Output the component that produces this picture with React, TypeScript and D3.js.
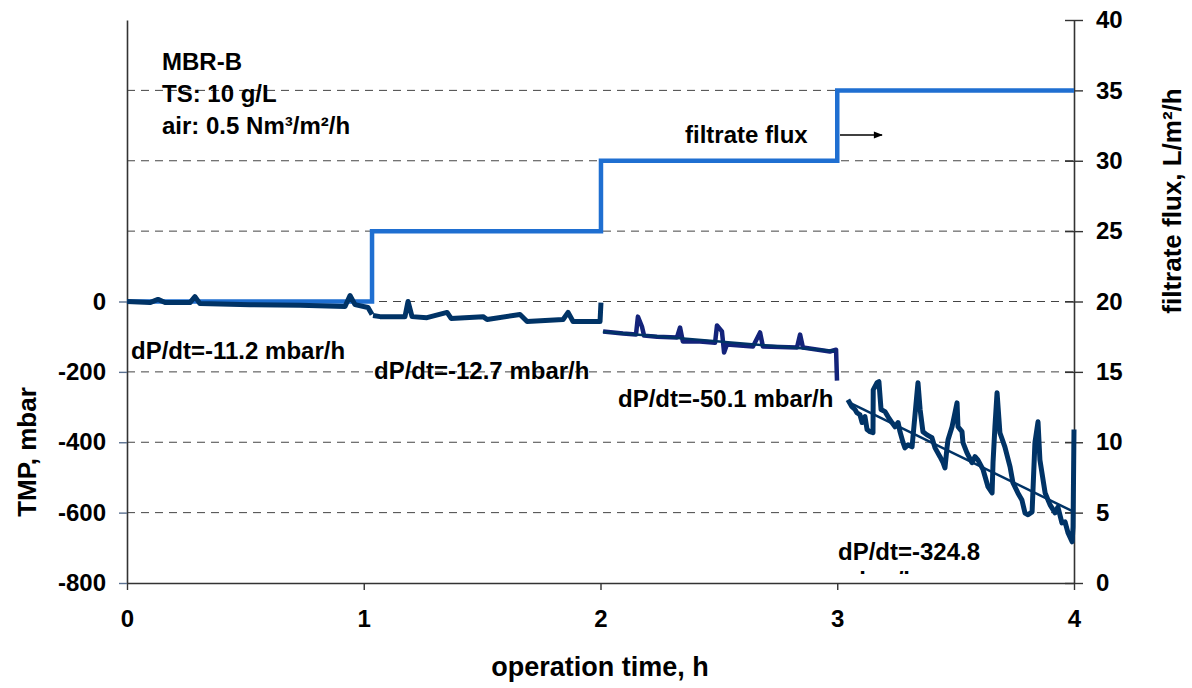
import { useRef, useEffect } from "react";
import * as d3 from "d3";

// operation time in h, TMP in mbar, flux in L/m2/h
const timeTicks = [0, 1, 2, 3, 4];
const tmpTicks = [0, -200, -400, -600, -800];
const fluxTicks = [0, 5, 10, 15, 20, 25, 30, 35, 40];
const gridFlux = [5, 10, 15, 20, 25, 30, 35];

const fluxTime = [0, 1.035, 2.002, 3.0, 4.0];
const fluxValue = [20, 25, 30, 35, 35];

const seg1: [number, number][] = [
  [0, 0], [0.097, -3], [0.131, 6], [0.161, -3], [0.266, -3], [0.287, 14], [0.308, -6],
  [0.52, -9], [0.731, -11], [0.921, -14], [0.942, 17], [0.963, -9], [1.018, -17], [1.035, -37],
];
const seg2: [number, number][] = [
  [1.039, -40], [1.069, -43], [1.174, -43], [1.187, 0], [1.204, -43], [1.267, -46],
  [1.352, -31], [1.369, -48], [1.504, -43], [1.521, -51], [1.66, -37], [1.69, -57],
  [1.842, -51], [1.863, -31], [1.884, -57], [1.998, -57], [2.002, -3],
];
const seg3: [number, number][] = [
  [2.011, -85], [2.095, -91], [2.15, -94], [2.158, -43], [2.175, -71], [2.184, -97],
  [2.239, -100], [2.323, -102], [2.336, -74], [2.348, -114], [2.42, -114], [2.484, -117],
  [2.492, -68], [2.513, -85], [2.522, -145], [2.534, -122], [2.644, -128], [2.674, -88],
  [2.686, -128], [2.83, -131], [2.843, -94], [2.855, -131], [2.969, -142], [2.995, -137],
  [2.999, -225],
];
const seg4: [number, number][] = [
  [3.045, -279], [3.062, -299], [3.075, -307], [3.083, -316], [3.096, -322], [3.105, -344],
  [3.117, -327], [3.126, -364], [3.138, -370], [3.151, -373], [3.152, -251], [3.168, -231],
  [3.176, -228], [3.185, -307], [3.202, -313], [3.214, -327], [3.231, -344], [3.244, -356],
  [3.257, -344], [3.265, -370], [3.278, -401], [3.286, -416], [3.299, -407], [3.316, -413],
  [3.32, -384], [3.337, -259], [3.341, -231], [3.35, -307], [3.362, -370], [3.379, -379],
  [3.4, -387], [3.413, -416], [3.434, -441], [3.447, -458], [3.455, -473], [3.464, -413],
  [3.468, -393], [3.485, -356], [3.506, -288], [3.51, -356], [3.527, -370], [3.531, -401],
  [3.548, -430], [3.569, -458], [3.582, -441], [3.594, -450], [3.616, -478], [3.637, -527],
  [3.654, -544], [3.658, -458], [3.666, -356], [3.675, -259], [3.687, -373], [3.708, -413],
  [3.73, -470], [3.742, -515], [3.763, -544], [3.78, -564], [3.793, -601], [3.806, -606],
  [3.823, -598], [3.835, -401], [3.848, -342], [3.856, -450], [3.878, -544], [3.899, -578],
  [3.92, -601], [3.932, -584], [3.949, -629], [3.962, -626], [3.975, -658], [3.992, -683],
  [3.996, -641], [4.0, -364],
];
const trend3: [number, number][] = [[2.01, -86], [2.99, -141]];
const trend4: [number, number][] = [[3.045, -285], [4.0, -598]];

const font = "'Liberation Sans', Arial, sans-serif";

export default function App() {
  const width = 1192;
  const height = 688;
  const left = 127, right = 1074, top = 20, bottom = 583;

  const x = d3.scaleLinear().domain([0, 4]).range([left, right]);
  const yL = d3.scaleLinear().domain([-800, 800]).range([bottom, top]);
  const yR = d3.scaleLinear().domain([0, 40]).range([bottom, top]);

  const gx = useRef<SVGGElement>(null);
  const gl = useRef<SVGGElement>(null);
  const gr = useRef<SVGGElement>(null);

  useEffect(() => {
    const style = (g: any) => {
      g.selectAll("text").attr("font-family", font).attr("font-weight", "bold").attr("font-size", 24).attr("fill", "#000");
      g.select(".domain").attr("stroke", "#333").attr("stroke-width", 1.6);
      g.selectAll(".tick line").attr("stroke", "#333").attr("stroke-width", 1.4);
    };
    const fmt = (d: any) => String(d);
    d3.select(gx.current).selectAll("*").remove();
    d3.select(gx.current)
      .call(d3.axisBottom(x).tickValues(timeTicks).tickSize(7).tickSizeOuter(0).tickPadding(20).tickFormat(fmt) as any)
      .call(style);
    d3.select(gl.current).selectAll("*").remove();
    d3.select(gl.current)
      .call(d3.axisLeft(yL).tickValues(tmpTicks).tickSize(8).tickSizeOuter(0).tickPadding(13).tickFormat(fmt) as any)
      .call(style);
    d3.select(gl.current).selectAll(".tick line").attr("stroke", "#5a7090");
    d3.select(gr.current).selectAll("*").remove();
    d3.select(gr.current)
      .call(d3.axisRight(yR).tickValues(fluxTicks).tickSize(9).tickSizeOuter(0).tickPadding(13).tickFormat(fmt) as any)
      .call(style);
    d3.select(gr.current).selectAll(".tick line").attr("x1", -9);
  }, []);

  const line = d3.line<[number, number]>().x(d => x(d[0])).y(d => yL(d[1]));
  const fluxLine = d3.line<number>().x((_, i) => x(fluxTime[i])).y(d => yR(d)).curve(d3.curveStepAfter);

  const label = { fontFamily: font, fontWeight: "bold" as const, fontSize: 24, fill: "#000" };
  const title = { ...label, fontSize: 26 };

  return (
    <svg width={width} height={height} style={{ position: "absolute", left: 0, top: 0, background: "#fff" }}>
      <defs>
        <clipPath id="cut">
          <rect x={0} y={0} width={width} height={574} />
        </clipPath>
        <marker id="arr" viewBox="0 0 10 10" refX={9} refY={5} markerWidth={10} markerHeight={9} orient="auto" markerUnits="userSpaceOnUse">
          <path d="M0,1 L10,5 L0,9 z" fill="#000" />
        </marker>
      </defs>
      {gridFlux.map(v => (
        <line key={v} x1={left} x2={right} y1={yR(v)} y2={yR(v)} stroke="#444" strokeWidth={1} strokeDasharray="8,6" />
      ))}
      <g ref={gx} transform={`translate(0,${bottom})`} />
      <g ref={gl} transform={`translate(${left},0)`} />
      <g ref={gr} transform={`translate(${right},0)`} />

      <path d={fluxLine(fluxValue) || ""} fill="none" stroke="#1f6fd1" strokeWidth={4.5} />
      <path d={line(seg1) || ""} fill="none" stroke="#003366" strokeWidth={5} strokeLinejoin="round" />
      <path d={line(seg2) || ""} fill="none" stroke="#003366" strokeWidth={5} strokeLinejoin="round" />
      <path d={line(seg3) || ""} fill="none" stroke="#13237a" strokeWidth={4.5} strokeLinejoin="round" />
      <path d={line(seg4) || ""} fill="none" stroke="#003366" strokeWidth={5} strokeLinejoin="round" />
      <path d={line(trend3) || ""} fill="none" stroke="#003366" strokeWidth={2.5} />
      <path d={line(trend4) || ""} fill="none" stroke="#003366" strokeWidth={2.5} />

      <text x={162} y={70} {...label}>MBR-B</text>
      <text x={162} y={102} {...label}>TS: 10 g/L</text>
      <text x={162} y={134} {...label}>air: 0.5 Nm³/m²/h</text>
      <text x={685} y={143} {...label}>filtrate flux</text>
      <line x1={840} x2={882} y1={135} y2={135} stroke="#000" strokeWidth={1.5} markerEnd="url(#arr)" />

      <text x={131} y={359} {...label}>dP/dt=-11.2 mbar/h</text>
      <text x={374} y={379} {...label}>dP/dt=-12.7 mbar/h</text>
      <text x={618} y={407} {...label}>dP/dt=-50.1 mbar/h</text>
      <text x={838} y={560} {...label}>dP/dt=-324.8</text>
      <text x={838} y={589} {...label} clipPath="url(#cut)">mbar/h</text>

      <text transform={`translate(36,452) rotate(-90)`} textAnchor="middle" {...title}>TMP, mbar</text>
      <text transform={`translate(1181,201) rotate(-90)`} textAnchor="middle" {...title}>filtrate flux, L/m²/h</text>
      <text x={600} y={676} textAnchor="middle" {...title} fontSize={27}>operation time, h</text>
    </svg>
  );
}
